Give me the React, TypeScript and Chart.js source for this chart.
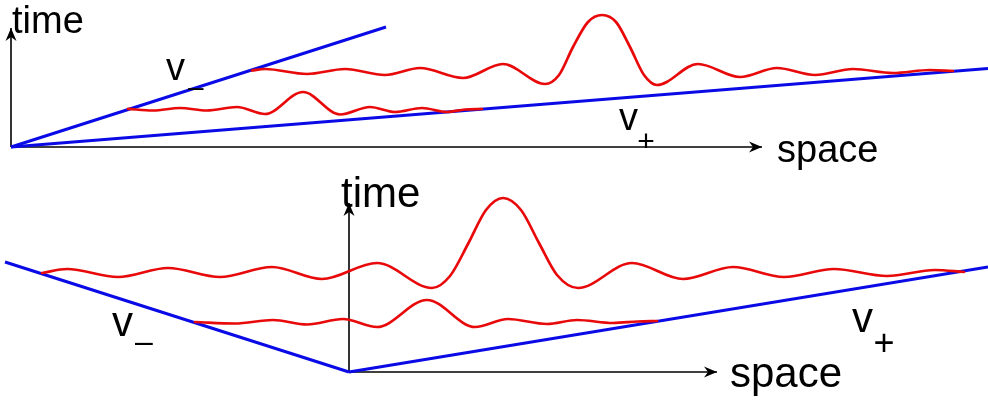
import { useEffect, useRef } from "react";
import { Chart, registerables } from "chart.js";

Chart.register(...registerables);

type P = [number, number];

// ---- Data (coordinates, in picture units: x = space, y = from top) ----
// Top panel
const topTimeAxis: P[] = [[11, 147], [11, 28]];
const topSpaceAxis: P[] = [[11, 147], [762, 147]];
const topVMinusLine: P[] = [[11, 147], [386, 27]];
const topVPlusLine: P[] = [[11, 147], [988, 68.5]];
const topWaveUpper: P[] = [
  [252, 70.5], [265, 69], [307, 74], [345, 69], [385, 75], [420, 68], [463, 78],
  [503, 64], [545, 84], [559, 75], [573, 47], [588, 22], [602, 15],
  [616, 22], [630, 47], [644, 75], [657, 85], [698, 64], [740, 77],
  [777, 68], [815, 75], [853, 69], [893, 73], [930, 70], [953, 71],
];
const topWaveLower: P[] = [
  [128, 108.8], [153, 110.5], [180, 108], [207, 110.5], [237, 107], [265, 114],
  [303, 92], [340, 114.5], [370, 107], [395, 112], [422, 108],
  [447, 112], [465, 109.5], [482, 109],
];

// Bottom panel
const botTimeAxis: P[] = [[349, 372], [349, 203]];
const botSpaceAxis: P[] = [[349, 372], [717, 372]];
const botVMinusLine: P[] = [[5, 262], [349, 372]];
const botVPlusLine: P[] = [[349, 372], [988, 267]];
const botWaveUpper: P[] = [
  [42, 273], [67, 269], [118, 277], [168, 268], [220, 277], [272, 267], [322, 279],
  [377, 263], [432, 288], [450, 276], [468, 244], [486, 210], [503, 198],
  [521, 210], [539, 243], [557, 275], [578, 288], [632, 263], [683, 279],
  [733, 267], [784, 277], [834, 269], [887, 276], [935, 270], [964, 272],
];
const botWaveLower: P[] = [
  [195, 322], [235, 323.5], [273, 320], [307, 324.5], [343, 319], [377, 327],
  [427, 300], [475, 327], [508, 319], [547, 324], [577, 320],
  [613, 323], [638, 321.5], [657, 321],
];

// ---- Text annotations (anchor in the same units) ----
type Label = { text: string; x: number; y: number; size: number; align: CanvasTextAlign };
const labels: Label[] = [
  { text: "time", x: 12, y: 33, size: 38, align: "left" },
  { text: "space", x: 777, y: 162, size: 38, align: "left" },
  { text: "v", x: 166, y: 80, size: 38, align: "left" },
  { text: "\u2013", x: 188, y: 95.5, size: 28, align: "left" },
  { text: "v", x: 619, y: 130, size: 38, align: "left" },
  { text: "+", x: 646, y: 151, size: 30, align: "center" },
  { text: "time", x: 341, y: 207, size: 42, align: "left" },
  { text: "space", x: 730, y: 387, size: 42, align: "left" },
  { text: "v", x: 112, y: 336, size: 42, align: "left" },
  { text: "\u2013", x: 135, y: 352, size: 32, align: "left" },
  { text: "v", x: 852, y: 332, size: 42, align: "left" },
  { text: "+", x: 884, y: 355, size: 36, align: "center" },
];

const RED = "rgb(232,10,10)";
const BLUE = "rgb(10,10,230)";
const BLACK = "#000";

const toXY = (pts: P[]) => pts.map(([x, y]) => ({ x, y }));

const arrowPlugin = {
  id: "arrowHeads",
  afterDatasetsDraw(chart: any) {
    const ctx = chart.ctx as CanvasRenderingContext2D;
    chart.data.datasets.forEach((ds: any, i: number) => {
      if (!ds.arrow) return;
      const pts = chart.getDatasetMeta(i).data;
      const a = pts[pts.length - 2];
      const b = pts[pts.length - 1];
      const ang = Math.atan2(b.y - a.y, b.x - a.x);
      const L = 13, W = 5.5, I = 9;
      ctx.save();
      ctx.translate(b.x, b.y);
      ctx.rotate(ang);
      ctx.beginPath();
      ctx.moveTo(0, 0);
      ctx.lineTo(-L, -W);
      ctx.lineTo(-I, 0);
      ctx.lineTo(-L, W);
      ctx.closePath();
      ctx.fillStyle = BLACK;
      ctx.fill();
      ctx.restore();
    });
  },
};

const labelPlugin = {
  id: "textLabels",
  afterDraw(chart: any) {
    const ctx = chart.ctx as CanvasRenderingContext2D;
    const xs = chart.scales.x;
    const ys = chart.scales.y;
    ctx.save();
    ctx.fillStyle = BLACK;
    ctx.textBaseline = "alphabetic";
    labels.forEach((l) => {
      ctx.font = `${l.size}px "Liberation Sans", Arial, sans-serif`;
      ctx.textAlign = l.align;
      ctx.fillText(l.text, xs.getPixelForValue(l.x), ys.getPixelForValue(l.y));
    });
    ctx.restore();
  },
};

export default function App() {
  const ref = useRef<HTMLCanvasElement | null>(null);

  useEffect(() => {
    document.body.style.margin = "0";
    if (!ref.current) return;
    const line = (pts: P[], color: string, width: number, order: number, extra: any = {}) => ({
      data: toXY(pts),
      borderColor: color,
      backgroundColor: color,
      borderWidth: width,
      pointRadius: 0,
      showLine: true,
      fill: false,
      order,
      ...extra,
    });
    const wave = {
      cubicInterpolationMode: "monotone",
      tension: 0.4,
      borderCapStyle: "round",
      borderJoinStyle: "round",
    };
    const chart = new Chart(ref.current, {
      type: "scatter",
      data: {
        datasets: [
          line(topWaveUpper, RED, 2.7, 0, wave),
          line(topWaveLower, RED, 2.7, 0, wave),
          line(botWaveUpper, RED, 2.7, 0, wave),
          line(botWaveLower, RED, 2.7, 0, wave),
          line(topVMinusLine, BLUE, 3, 1),
          line(topVPlusLine, BLUE, 3, 1),
          line(botVMinusLine, BLUE, 3, 1),
          line(botVPlusLine, BLUE, 3, 1),
          line(topTimeAxis, BLACK, 1.6, 2, { arrow: true }),
          line(topSpaceAxis, BLACK, 1.6, 2, { arrow: true }),
          line(botTimeAxis, BLACK, 1.6, 2, { arrow: true }),
          line(botSpaceAxis, BLACK, 1.6, 2, { arrow: true }),
        ] as any,
      },
      options: {
        animation: false,
        responsive: false,
        maintainAspectRatio: false,
        layout: { padding: 0 },
        plugins: { legend: { display: false }, tooltip: { enabled: false } },
        events: [],
        scales: {
          x: { type: "linear", min: 0, max: 988, display: false },
          y: { type: "linear", min: 0, max: 402, reverse: true, display: false },
        },
      },
      plugins: [arrowPlugin, labelPlugin],
    });
    return () => chart.destroy();
  }, []);

  return (
    <div style={{ position: "fixed", left: 0, top: 0, width: 988, height: 402, background: "#fff" }}>
      <canvas ref={ref} width={988} height={402} style={{ display: "block" }} />
    </div>
  );
}
